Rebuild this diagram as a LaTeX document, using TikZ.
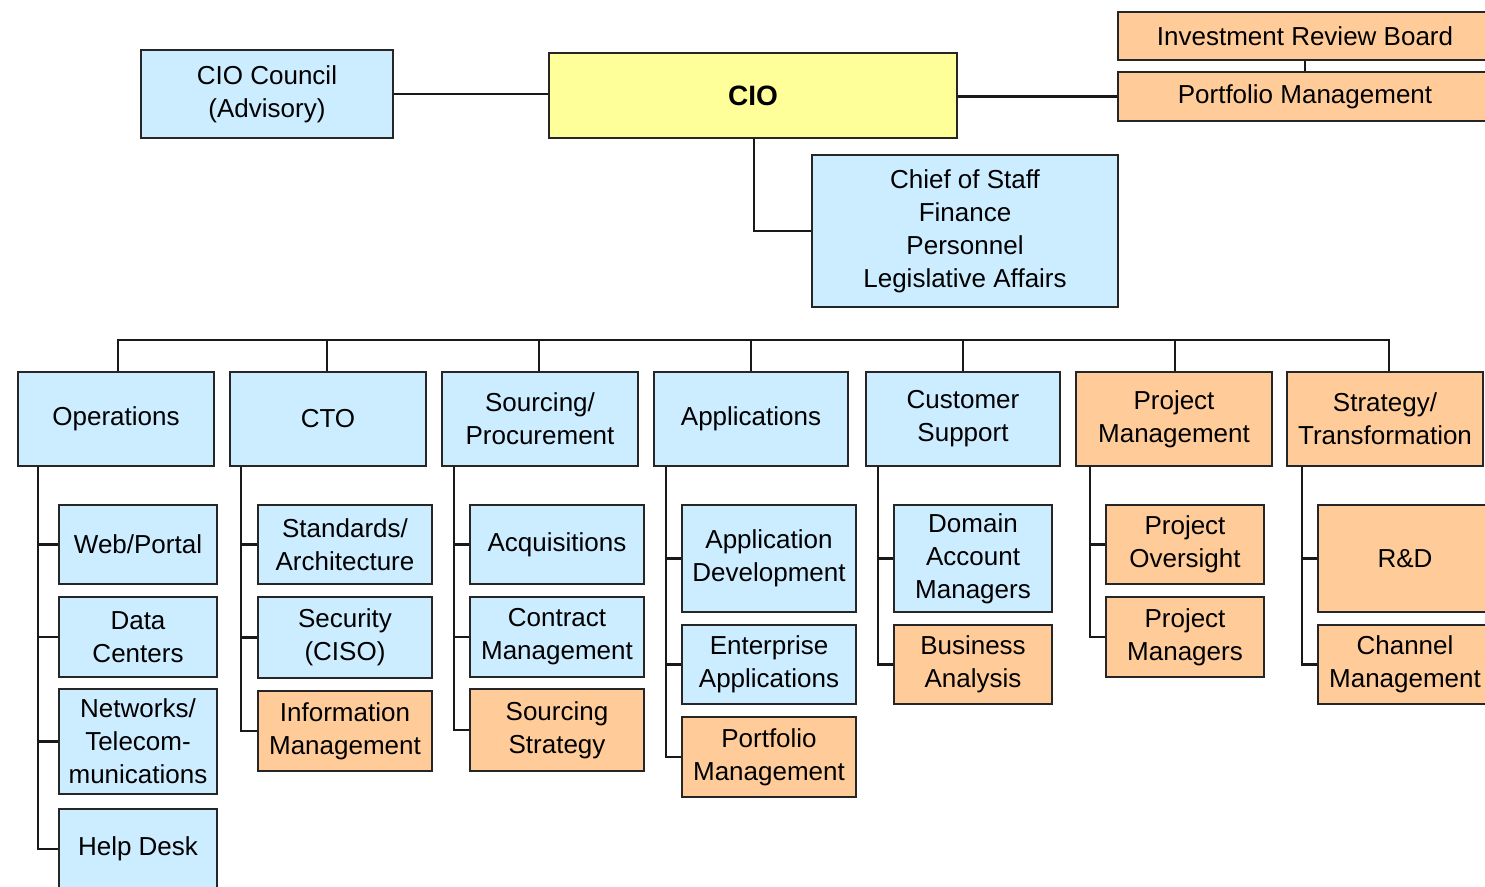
\documentclass[tikz,border=0pt]{standalone}
\usepackage{fontspec}
\setmainfont{Liberation Sans}
\definecolor{bxblue}{HTML}{CCECFF}
\definecolor{bxorange}{HTML}{FFCC99}
\definecolor{bxyellow}{HTML}{FFFF99}
\begin{document}
\begin{tikzpicture}[x=1pt,y=-1pt,
  bx/.style={draw=black!85,line width=2.2pt,rectangle,inner sep=0pt,align=center,
    font=\fontsize{26}{33}\selectfont},
  bl/.style={bx,fill=bxblue},
  og/.style={bx,fill=bxorange},
  yl/.style={bx,fill=bxyellow},
  ln/.style={draw=black!90,line width=2.4pt},
  sz/.style 2 args={minimum width=#1,minimum height=#2}]
\useasboundingbox (0,0) rectangle (1485,886);
% top
\node[bl,sz={252pt}{88pt}] (council) at (267,94) {CIO Council\\(Advisory)};
\node[yl,sz={408pt}{85pt},font=\fontsize{28}{33}\selectfont\bfseries] (cio) at (753,95.5) {CIO};
\node[og,sz={374pt}{48pt}] (irb) at (1305,36) {Investment Review Board};
\node[og,sz={374pt}{49pt}] (pmtop) at (1305,96.5) {Portfolio Management};
\node[bl,sz={306pt}{152pt}] (cos) at (965,231) {Chief of Staff\\Finance\\Personnel\\Legislative Affairs};
% row 2
\node[bl,sz={196pt}{94pt}] (ops) at (116,419) {Operations};
\node[bl,sz={196pt}{94pt}] (cto) at (328,419) {CTO};
\node[bl,sz={196pt}{94pt}] (src) at (540,419) {Sourcing/\\Procurement};
\node[bl,sz={194pt}{94pt}] (app) at (751,419) {Applications};
\node[bl,sz={194pt}{94pt}] (cs) at (963,419) {Customer\\Support};
\node[og,sz={196pt}{94pt}] (prm) at (1174,419) {Project\\Management};
\node[og,sz={196pt}{94pt}] (str) at (1385,419) {Strategy/\\Transformation};
% operations children
\node[bl,sz={158pt}{79pt}] (web) at (138,544.5) {Web/Portal};
\node[bl,sz={158pt}{80pt}] (dc) at (138,637) {Data\\Centers};
\node[bl,sz={158pt}{105pt}] (net) at (138,741.5) {Networks/\\Telecom-\\munications};
\node[bl,sz={158pt}{80pt}] (hd) at (138,849) {Help Desk};
% cto children
\node[bl,sz={174pt}{79pt}] (std) at (345,544.5) {Standards/\\Architecture};
\node[bl,sz={174pt}{81pt}] (sec) at (345,637.5) {Security\\(CISO)};
\node[og,sz={174pt}{80pt}] (im) at (345,731) {Information\\Management};
% sourcing children
\node[bl,sz={174pt}{79pt}] (acq) at (557,544.5) {Acquisitions};
\node[bl,sz={174pt}{80pt}] (cm) at (557,637) {Contract\\Management};
\node[og,sz={174pt}{82pt}] (ss) at (557,730) {Sourcing\\Strategy};
% applications children
\node[bl,sz={174pt}{107pt}] (ad) at (769,558.5) {Application\\Development};
\node[bl,sz={174pt}{79pt}] (ea) at (769,664.5) {Enterprise\\Applications};
\node[og,sz={174pt}{80pt}] (pfm) at (769,757) {Portfolio\\Management};
% customer support children
\node[bl,sz={158pt}{107pt}] (dam) at (973,558.5) {Domain\\Account\\Managers};
\node[og,sz={158pt}{79pt}] (ba) at (973,664.5) {Business\\Analysis};
% project management children
\node[og,sz={158pt}{79pt}] (po) at (1185,544.5) {Project\\Oversight};
\node[og,sz={158pt}{80pt}] (pmg) at (1185,637) {Project\\Managers};
% strategy children
\node[og,sz={174pt}{107pt}] (rd) at (1405,558.5) {R\&D};
\node[og,sz={174pt}{79pt}] (chm) at (1405,664.5) {Channel\\Management};
% top connectors
\draw[ln] (council.east) -- (council.east -| cio.west);
\draw[ln] (cio.east |- pmtop.west) -- (pmtop.west);
\draw[ln] (irb.south) -- (pmtop.north);
\draw[ln] ([xshift=1pt]cio.south) |- (cos.west);
% bus
\draw[ln] ([xshift=2pt]ops.north) -- ++(0,-31) coordinate (busL) -| ([xshift=4pt]str.north);
\foreach \n/\d in {cto/-1pt,src/-1pt,app/0pt,cs/0pt,prm/1pt}
  \draw[ln] ([xshift=\d]\n.north) -- ([xshift=\d]\n.north |- busL);
% trunks
\coordinate (opsT) at ([xshift=21pt]ops.south west);
\draw[ln] (opsT) |- (hd.west);
\foreach \c in {web,dc,net} \draw[ln] (opsT |- \c.west) -- (\c.west);
\coordinate (ctoT) at ([xshift=12pt]cto.south west);
\draw[ln] (ctoT) |- (im.west);
\foreach \c in {std,sec} \draw[ln] (ctoT |- \c.west) -- (\c.west);
\coordinate (srcT) at ([xshift=13pt]src.south west);
\draw[ln] (srcT) |- (ss.west);
\foreach \c in {acq,cm} \draw[ln] (srcT |- \c.west) -- (\c.west);
\coordinate (appT) at ([xshift=13pt]app.south west);
\draw[ln] (appT) |- (pfm.west);
\foreach \c in {ad,ea} \draw[ln] (appT |- \c.west) -- (\c.west);
\coordinate (csT) at ([xshift=13pt]cs.south west);
\draw[ln] (csT) |- (ba.west);
\draw[ln] (csT |- dam.west) -- (dam.west);
\coordinate (prmT) at ([xshift=15pt]prm.south west);
\draw[ln] (prmT) |- (pmg.west);
\draw[ln] (prmT |- po.west) -- (po.west);
\coordinate (strT) at ([xshift=16pt]str.south west);
\draw[ln] (strT) |- (chm.west);
\draw[ln] (strT |- rd.west) -- (rd.west);
\end{tikzpicture}
\end{document}
